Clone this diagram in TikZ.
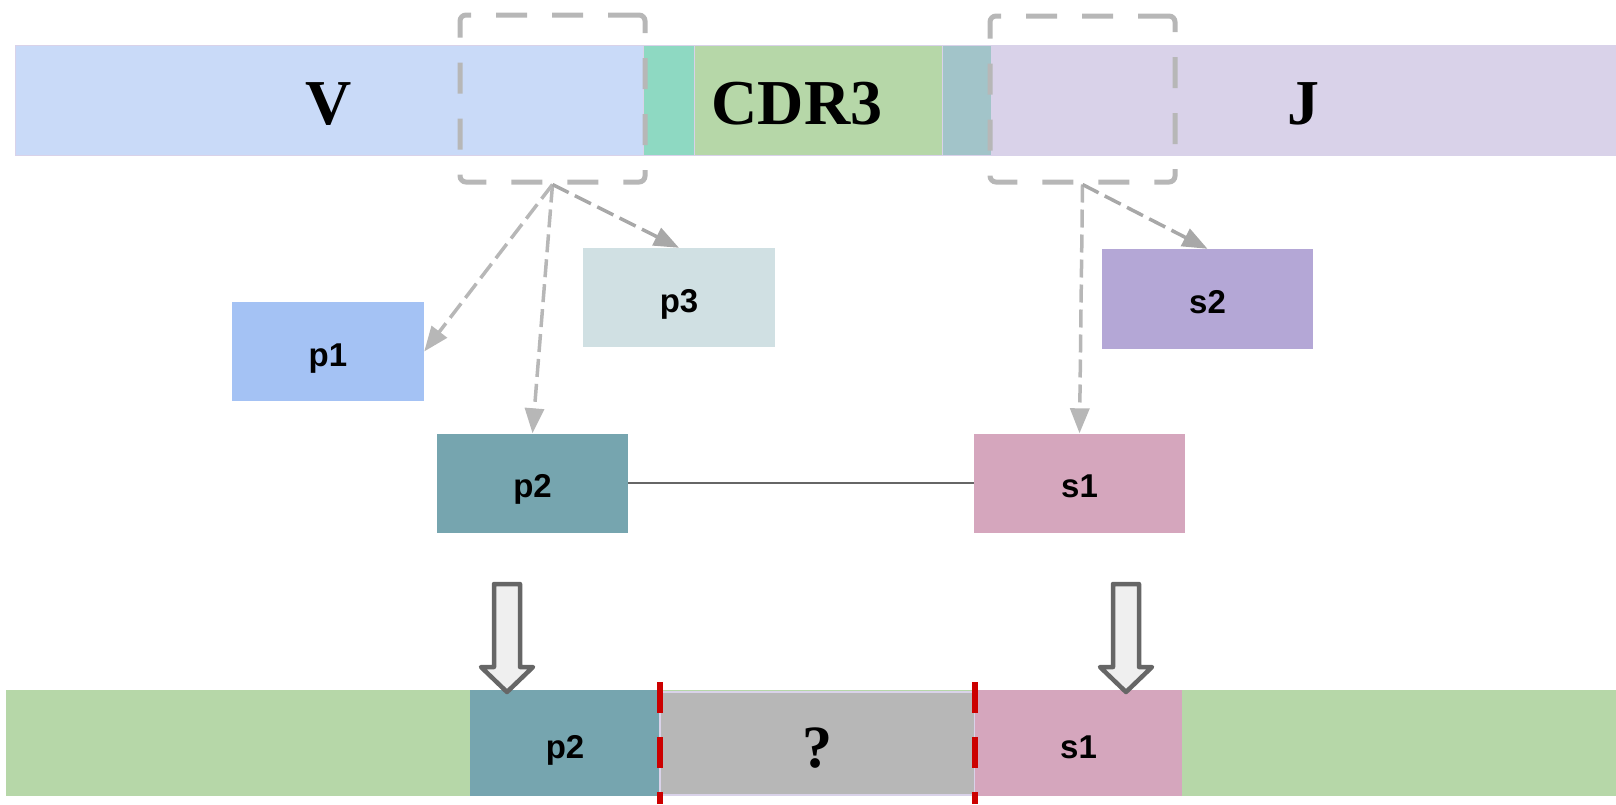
\documentclass[tikz,border=0pt]{standalone}
\usepackage{fontspec}
\setmainfont{Liberation Serif}
\setsansfont{Liberation Sans}
\usetikzlibrary{arrows.meta}

\definecolor{vblue}{HTML}{C9DAF8}
\definecolor{jlav}{HTML}{D9D2E9}
\definecolor{turq}{HTML}{8ED9C2}
\definecolor{cdrgreen}{HTML}{B6D7A8}
\definecolor{bluegrey}{HTML}{A2C4C9}
\definecolor{pblue}{HTML}{A4C2F4}
\definecolor{pteal}{HTML}{76A5AF}
\definecolor{pgrey}{HTML}{D0E0E3}
\definecolor{spink}{HTML}{D5A6BD}
\definecolor{spurple}{HTML}{B4A7D6}
\definecolor{dashgrey}{HTML}{B7B7B7}
\definecolor{arrowgrey}{HTML}{A8A8A8}
\definecolor{darkgrey}{HTML}{666666}
\definecolor{lightfill}{HTML}{EFEFEF}
\definecolor{cutred}{HTML}{CC0000}

\begin{document}
\begin{tikzpicture}[x=1pt,y=-1pt]
    \useasboundingbox (0,0) rectangle (1616,804);
    % top: V - CDR3 - J
    \begin{scope}
        \tikzstyle{every node}=[rectangle, inner sep=0pt, minimum height=110pt, draw=jlav, line width=1pt, text height=49pt, text depth=0pt, font=\fontsize{64}{70}\selectfont\bfseries]
        \node[fill=vblue, minimum width=628pt] (V) at (329,100) {V};
        \node[fill=turq, minimum width=51pt] (n1) at (668.5,100) {};
        \node[fill=cdrgreen, minimum width=248pt] (cdr3) at (818,100) {};
        \node[fill=bluegrey, minimum width=49pt] (n2) at (966.5,100) {};
        \node[fill=jlav, minimum width=625pt] (J) at (1303.5,100) {J};
        \node[draw=none, fill=none, minimum height=0pt] (cdr3text) at (797,100) {CDR3};
    \end{scope}
    % selected regions
    \begin{scope}
        \tikzstyle{every node}=[rectangle, draw=dashgrey, line width=5pt, rounded corners=6pt, dash pattern=on 31pt off 25pt, minimum width=185pt, inner sep=0pt]
        \node[minimum height=167pt] (vsel) at (552.5,98.5) {};
        \node[minimum height=166pt] (jsel) at (1082.5,99) {};
    \end{scope}
    % candidate pieces
    \begin{scope}
        \tikzstyle{every node}=[rectangle, inner sep=0pt, minimum height=99pt, text height=29pt, text depth=0pt, font=\fontsize{33}{36}\selectfont\sffamily\bfseries]
        \node[fill=pblue, minimum width=192pt] (p1) at (328,351.5) {p1};
        \node[fill=pteal, minimum width=191pt] (p2) at (532.5,483) {p2};
        \node[fill=pgrey, minimum width=192pt] (p3) at (679,297.5) {p3};
        \node[fill=spink, minimum width=211pt] (s1) at (1079.5,483) {s1};
        \node[fill=spurple, minimum width=211pt, minimum height=100pt] (s2) at (1207.5,299) {s2};
    \end{scope}
    \begin{scope}
        \tikzstyle{every edge}=[draw, dashgrey, line width=3.5pt, dash pattern=on 18pt off 7pt, -{Triangle[length=25pt,width=19pt]}]
        \path
        (vsel.south) edge (p1.east)
        (vsel.south) edge (p2.north)
        (vsel.south) edge[arrowgrey] (p3.north)
        (jsel.south) edge (s1.north)
        (jsel.south) edge[arrowgrey] (s2.north)
        ;
    \end{scope}
    \draw[darkgrey, line width=1.5pt] (p2) -- (s1);
    % assembled read
    \begin{scope}
        \tikzstyle{every node}=[rectangle, inner sep=0pt, minimum height=106pt, text height=31pt, text depth=0pt, font=\fontsize{33}{36}\selectfont\sffamily\bfseries]
        \node[fill=cdrgreen, minimum width=1610pt] (read) at (811,743) {};
        \node[fill=pteal, minimum width=190pt] (bp2) at (565,743) {p2};
        \node[fill=dashgrey, draw=jlav, line width=1.5pt, minimum width=315pt, minimum height=103pt, text height=48pt, font=\fontsize{60}{66}\selectfont\rmfamily\bfseries] (gap) at (817.5,743.5) {?};
        \node[fill=spink, minimum width=207pt] (bs1) at (1078.5,743) {s1};
    \end{scope}
    \foreach \x in {660,975}
        \draw[cutred, line width=6pt, dash pattern=on 31pt off 24pt] (\x,682) -- (\x,804);
    \foreach \x in {507,1126}
        \draw[darkgrey, fill=lightfill, line width=4.5pt, line join=round]
        (\x-13,584) -- (\x+13,584) -- (\x+13,667) -- (\x+26,667) -- (\x,692) -- (\x-26,667) -- (\x-13,667) -- cycle;
\end{tikzpicture}
\end{document}
